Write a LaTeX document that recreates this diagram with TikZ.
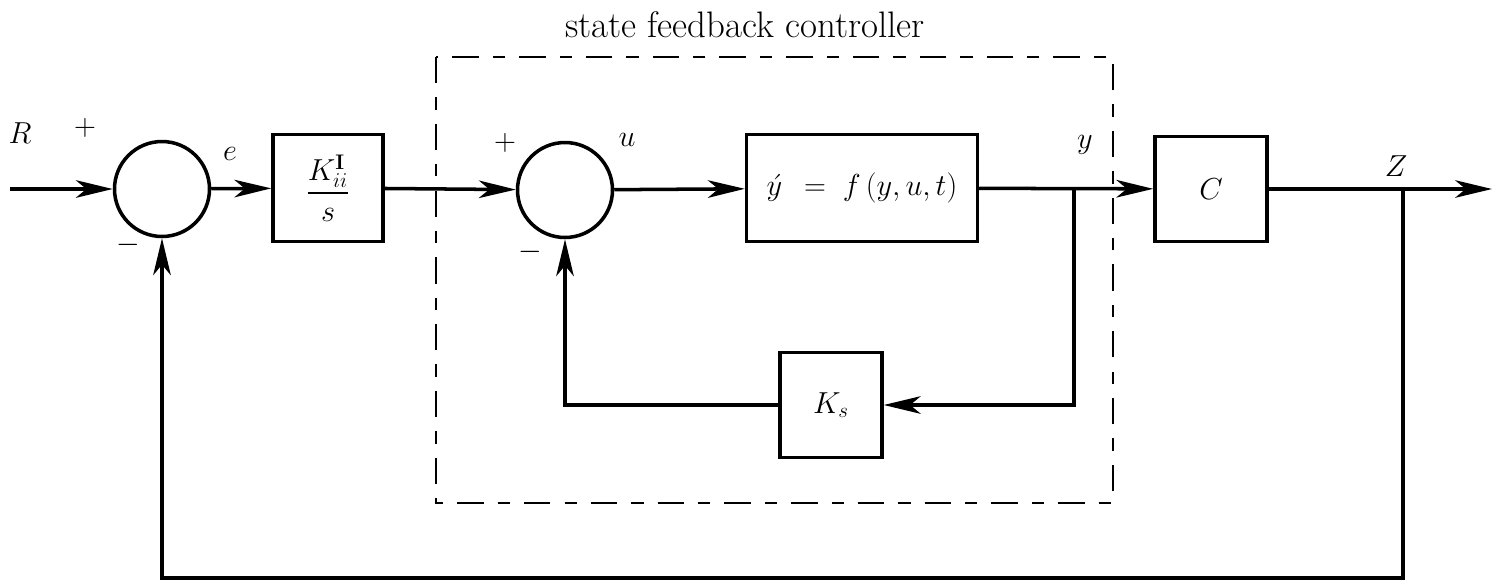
\documentclass[tikz,border=0pt]{standalone}
\usepackage{amsmath}
\usepackage{amssymb}
\usetikzlibrary{shapes, arrows.meta, positioning}
\tikzstyle{sumador} = [draw, circle, line width=2pt, minimum size=1.9cm, inner sep=0pt]
\tikzstyle{bloque} = [draw, rectangle, line width=2pt, inner sep=2pt, font=\LARGE]
\tikzstyle{senal} = [line width=2pt, -{Stealth[length=21pt, width=10pt, inset=6pt]}]
\tikzstyle{etiqueta} = [font=\LARGE]
\tikzstyle{controlador} = [draw, line width=1.2pt, dash pattern=on 15pt off 8pt on 7pt off 8pt]

\begin{document}
\begin{tikzpicture}[x=0.02cm, y=-0.02cm]
	\useasboundingbox (0,0) rectangle (1494,586);
	% bloques
	\node [sumador] (sum1) at (162,189) {};
	\node [bloque, minimum width=2.2cm, minimum height=2.14cm] (kint) at (328,188) {$\dfrac{K^{\mathbf{I}}_{ii}}{s}$};
	\node [sumador] (sum2) at (565,190) {};
	\node [bloque, minimum width=4.62cm, minimum height=2.14cm] (planta) at (862,188) {$\acute{y}\;\,=\;f\,(y,u,t)$};
	\node [bloque, minimum width=2.04cm, minimum height=2.1cm] (ks) at (831,405) {$K_s$};
	\node [bloque, minimum width=2.24cm, minimum height=2.1cm] (cbox) at (1211,189) {$C$};
	% controlador
	\draw [controlador] (436,57) rectangle (1113,503);
	\node [font=\fontsize{21}{24}\selectfont] (titulo) at (745,25) {state feedback controller};
	% puntos
	\coordinate (entrada) at (10,189);
	\coordinate (salida) at (1492,189);
	\coordinate (yram) at (1074,189);
	\coordinate (zram) at (1403,189);
	\coordinate (abajo) at (0,578);
	% senales
	\draw [senal] (entrada) -- (sum1);
	\draw [senal] (sum1) -- (kint);
	\draw [senal] (kint) -- (sum2);
	\draw [senal] (sum2) -- (planta);
	\draw [senal] (planta) -- (cbox);
	\draw [senal] (cbox) -- (salida);
	\draw [senal] (yram) |- (ks);
	\draw [senal] (ks) -| (sum2);
	\draw [senal] (zram) -- (zram |- abajo) -| (sum1);
	% etiquetas
	\node [etiqueta] (lr) at (20,133) {$R$};
	\node [etiqueta] (lp1) at (85,128) {$+$};
	\node [etiqueta] (lm1) at (128,245) {$-$};
	\node [etiqueta] (le) at (230,154) {$e$};
	\node [etiqueta] (lp2) at (505,143) {$+$};
	\node [etiqueta] (lu) at (627,140) {$u$};
	\node [etiqueta] (lm2) at (530,252) {$-$};
	\node [etiqueta] (ly) at (1085,145) {$y$};
	\node [etiqueta] (lz) at (1396,166) {$Z$};
\end{tikzpicture}
\end{document}
